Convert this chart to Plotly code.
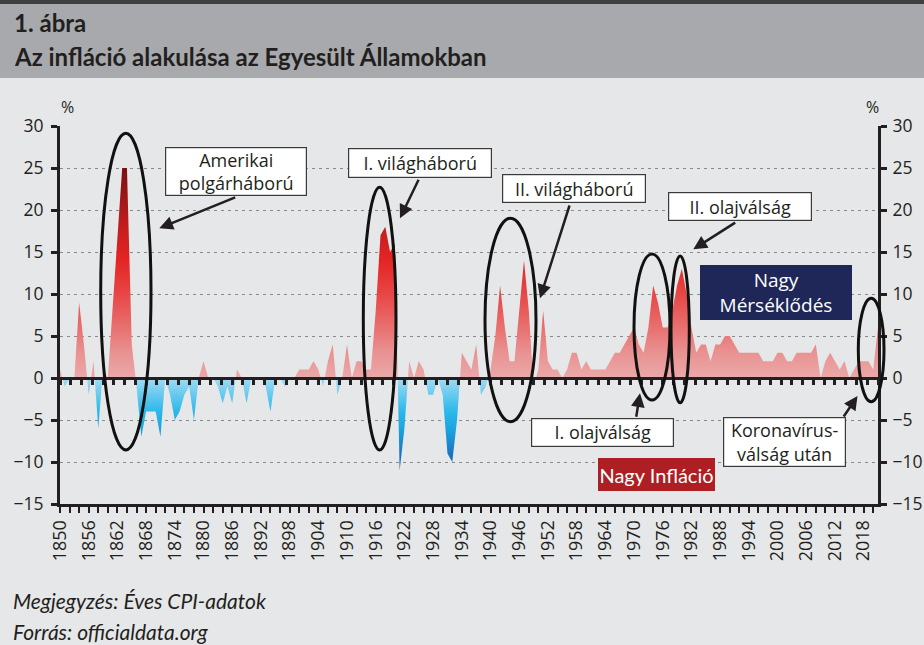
import plotly.graph_objects as go

# ---------------- data ----------------
years = list(range(1850, 2022))
inflation = [
    1, -1, 0, 0, 9, 4, -2, 2, -6, 1,            # 1850-1859
    0, 8, 16, 25, 25, 4, -1, -7, -4, -4,        # 1860-1869
    -4, -7, 0, -2, -5, -4, -2, -1, -5, 0,       # 1870-1879
    2, 0, 0, -1, -3, -1, -3, 1, 0, -3,          # 1880-1889
    0, 0, 0, -1, -4, 0, 0, -1, 0, 0,            # 1890-1899
    1, 1, 1, 2, 1, -1, 2, 4, -2, 0,             # 1900-1909
    4, 0, 2, 2, 1, 1, 8, 17, 18, 15,            # 1910-1919
    16, -11, -6, 2, 0, 2, 1, -2, -2, 0,         # 1920-1929
    -2, -9, -10, -5, 3, 2, 1, 4, -2, -1,        # 1930-1939
    1, 5, 11, 6, 2, 2, 8, 14, 8, -1,            # 1940-1949
    1, 8, 2, 1, 1, 0, 1, 3, 3, 1,               # 1950-1959
    2, 1, 1, 1, 1, 2, 3, 3, 4, 5,               # 1960-1969
    6, 4, 3, 6, 11, 9, 6, 6, 8, 11,             # 1970-1979
    13, 10, 6, 3, 4, 4, 2, 4, 4, 5,             # 1980-1989
    5, 4, 3, 3, 3, 3, 3, 2, 2, 2,               # 1990-1999
    3, 3, 2, 2, 3, 3, 3, 3, 4, 0,               # 2000-2009
    2, 3, 2, 1, 2, 0, 1, 2, 2, 2,               # 2010-2019
    1, 6,                                       # 2020-2021
]
year_ticks = list(range(1850, 2021, 2))
year_labels = [str(y) if (y - 1850) % 6 == 0 else "" for y in year_ticks]
y_ticks = [-15, -10, -5, 0, 5, 10, 15, 20, 25, 30]

title_line1 = "1. ábra"
title_line2 = "Az infláció alakulása az Egyesült Államokban"
note_text = "Megjegyzés: Éves CPI-adatok"
source_text = "Forrás: officialdata.org"

# ---------------- geometry helpers (figure pixels -> paper) ----------------
W, H = 924, 645
L, R, T, B = 60, 878, 126, 504
YMIN, YMAX = -15, 30
X0, X1 = years[0], years[-1]


def px(x):
    return (x - L) / (R - L)


def py(y):
    return (B - y) / (B - T)


def frac(v):
    return (v - YMIN) / (YMAX - YMIN)


z = frac(0)
colorscale = [
    [0.0, "#0d3d8c"],
    [frac(-11), "#1559a9"],
    [frac(-9), "#1a76c2"],
    [frac(-6), "#1ba6e0"],
    [frac(-4), "#2cb8ea"],
    [z, "#a2dbf4"],
    [z + 1e-6, "#eba9a9"],
    [frac(3), "#e99292"],
    [frac(6), "#e87070"],
    [frac(10), "#e84646"],
    [frac(14), "#e52424"],
    [frac(18), "#c41d1d"],
    [frac(22), "#9a1616"],
    [frac(25), "#7c1010"],
    [1.0, "#6a0c0c"],
]

INK = "#231f20"
BODY_FONT = "Open Sans"
HEAD_FONT = "Lato"

fig = go.Figure()
fig.add_trace(
    go.Scatter(
        x=years,
        y=inflation,
        mode="lines",
        line=dict(width=0, color="rgba(0,0,0,0)"),
        fill="tozeroy",
        fillgradient=dict(type="vertical", colorscale=colorscale, start=YMIN, stop=YMAX),
        hoverinfo="skip",
    )
)
# same series on the overlay axes (invisible) so that the right axis and the
# tick-marked zero line are rendered
fig.add_trace(
    go.Scatter(
        x=years,
        y=inflation,
        xaxis="x2",
        yaxis="y2",
        mode="lines",
        line=dict(width=0, color="rgba(0,0,0,0)"),
        opacity=0,
        hoverinfo="skip",
    )
)

axis_font = dict(family=BODY_FONT, size=17.5, color=INK)

fig.update_layout(
    width=W,
    height=H,
    autosize=False,
    margin=dict(l=L, r=W - R, t=T, b=H - B, autoexpand=False),
    paper_bgcolor="#e6e7e8",
    plot_bgcolor="#e6e7e8",
    showlegend=False,
    xaxis=dict(
        range=[X0, X1],
        tickvals=year_ticks,
        ticktext=year_labels,
        tickangle=-90,
        ticks="outside",
        ticklen=6,
        tickwidth=2,
        tickcolor=INK,
        showline=True,
        linewidth=3,
        linecolor=INK,
        showgrid=False,
        zeroline=False,
        automargin=False,
        tickfont=dict(family=BODY_FONT, size=18, color=INK),
    ),
    yaxis=dict(
        range=[YMIN, YMAX],
        tickvals=y_ticks,
        ticks="outside",
        ticklen=6,
        tickwidth=2.5,
        tickcolor=INK,
        showline=True,
        linewidth=3,
        linecolor=INK,
        showgrid=True,
        gridcolor="#8a8a8a",
        gridwidth=1.3,
        griddash="3px,4px",
        zeroline=False,
        automargin=False,
        tickfont=axis_font,
        ticklabelstandoff=4,
    ),
    yaxis2=dict(
        overlaying="y",
        side="right",
        anchor="x",
        range=[YMIN, YMAX],
        tickvals=y_ticks,
        ticks="outside",
        ticklen=6,
        tickwidth=2.5,
        tickcolor=INK,
        showline=True,
        linewidth=3,
        linecolor=INK,
        showgrid=False,
        zeroline=False,
        automargin=False,
        tickfont=axis_font,
        ticklabelstandoff=2,
    ),
    xaxis2=dict(
        overlaying="x",
        anchor="free",
        position=frac(0),
        side="bottom",
        range=[X0, X1],
        tick0=X0,
        dtick=(X1 - X0) / 76,
        ticks="outside",
        ticklen=5,
        tickwidth=3,
        tickcolor=INK,
        showline=True,
        linewidth=3,
        linecolor=INK,
        showticklabels=False,
        showgrid=False,
        zeroline=False,
        automargin=False,
    ),
)

shapes = []
# header band
shapes.append(dict(type="rect", xref="paper", yref="paper", x0=px(0), x1=px(W), y0=py(78), y1=py(4),
                   fillcolor="#a7a9ac", line=dict(width=0), layer="below"))
shapes.append(dict(type="rect", xref="paper", yref="paper", x0=px(0), x1=px(W), y0=py(4), y1=py(0),
                   fillcolor="#404041", line=dict(width=0), layer="below"))

# ellipses (left, top, right, bottom in figure pixels)
ellipses = [
    (100.7, 133.3, 151.0, 450.0),
    (363.3, 187.3, 396.0, 450.0),
    (485.0, 218.3, 536.0, 421.7),
    (634.0, 254.0, 670.0, 400.0),
    (671.0, 256.0, 689.3, 402.7),
    (858.3, 298.3, 884.0, 401.7),
]
for (x0, y0, x1, y1) in ellipses:
    shapes.append(dict(type="circle", xref="paper", yref="paper", x0=px(x0), x1=px(x1),
                       y0=py(y1), y1=py(y0), line=dict(color="#111111", width=3), layer="above"))
fig.update_layout(shapes=shapes)

ann = []
# title
ann.append(dict(xref="paper", yref="paper", x=px(12), y=py(23), xanchor="left", yanchor="middle",
                text="<b>" + title_line1 + "</b>", showarrow=False,
                font=dict(family=HEAD_FONT, size=24, color=INK)))
ann.append(dict(xref="paper", yref="paper", x=px(12), y=py(56), xanchor="left", yanchor="middle",
                text="<b>" + title_line2 + "</b>", showarrow=False,
                font=dict(family=HEAD_FONT, size=24, color=INK)))
# footer
ann.append(dict(xref="paper", yref="paper", x=px(11), y=py(600), xanchor="left", yanchor="middle",
                text="<i>" + note_text + "</i>", showarrow=False,
                font=dict(family=HEAD_FONT, size=21, color=INK)))
ann.append(dict(xref="paper", yref="paper", x=px(11), y=py(631), xanchor="left", yanchor="middle",
                text="<i>" + source_text + "</i>", showarrow=False,
                font=dict(family=HEAD_FONT, size=21, color=INK)))
# % labels
for xx in (67, 872):
    ann.append(dict(xref="paper", yref="paper", x=px(xx), y=py(107), xanchor="center", yanchor="middle",
                    text="%", showarrow=False, font=dict(family=BODY_FONT, size=16, color=INK)))

# arrows: (tail_x, tail_y, head_x, head_y) in figure pixels
arrows = [
    (236.7, 196.7, 159.3, 228.3),
    (419.3, 178.3, 400.0, 218.3),
    (570.0, 204.0, 540.0, 298.3),
    (736.7, 221.7, 693.3, 249.3),
    (636.0, 418.3, 640.0, 393.3),
    (842.7, 418.0, 857.5, 396.0),
]
for (tx, ty, hx, hy) in arrows:
    ann.append(dict(xref="paper", yref="paper", x=px(hx), y=py(hy), ax=tx - hx, ay=ty - hy,
                    axref="pixel", ayref="pixel", text="", showarrow=True, arrowhead=2,
                    arrowsize=1.1, arrowwidth=2.5, arrowcolor=INK, standoff=0, startstandoff=0))

# boxes: (text, cx, cy, w, h, bg, fg, font, size)
boxes = [
    ("Amerikai<br>polgárháború", 236, 171.5, 142, 49, "white", INK, BODY_FONT, 18),
    ("I. világháború", 420, 162.5, 144, 30, "white", INK, BODY_FONT, 18),
    ("II. világháború", 574, 188.5, 144, 29, "white", INK, BODY_FONT, 18),
    ("II. olajválság", 739.5, 206.3, 144, 29, "white", INK, BODY_FONT, 18),
    ("Nagy<br>Mérséklődés", 775.5, 292, 154, 57, "#1e2757", "white", BODY_FONT, 19),
    ("I. olajválság", 602.5, 432.5, 143, 28.5, "white", INK, BODY_FONT, 18),
    ("Nagy Infláció", 656.5, 474.5, 119, 35, "#ae1f24", "white", HEAD_FONT, 20),
    ("Koronavírus-<br>válság után", 784, 442, 123, 50, "white", INK, BODY_FONT, 18),
]
for (txt, cx, cy, w, h, bg, fg, fam, fs) in boxes:
    white = bg == "white"
    ann.append(dict(xref="paper", yref="paper", x=px(cx), y=py(cy), xanchor="center", yanchor="middle",
                    text=txt, showarrow=False, width=w - 2, height=h - 2, align="center",
                    bgcolor=bg, bordercolor="#3a3a3a" if white else bg, borderwidth=1.2 if white else 0,
                    borderpad=0, font=dict(family=fam, size=fs, color=fg)))

fig.update_layout(annotations=ann)

fig.write_html(
    "out.html",
    config={"displayModeBar": False},
    post_script="document.body.style.margin='0';document.body.style.padding='0';",
)
